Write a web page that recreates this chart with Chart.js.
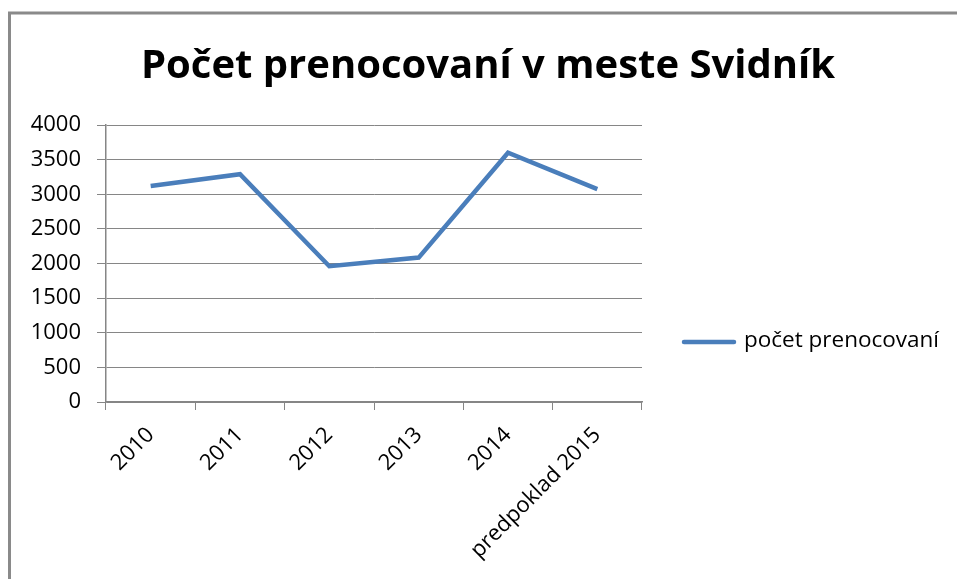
<!DOCTYPE html>
<html lang="sk">
<head>
    <meta charset="UTF-8">
    <title>Počet prenocovaní v meste Svidník</title>
    <script src="https://cdn.jsdelivr.net/npm/chart.js"></script>
    <style>
        html, body {
            margin: 0;
            padding: 0;
            background: #ffffff;
            overflow: hidden;
        }

        #chart {
            display: block;
        }
    </style>
</head>
<body>

    <canvas id="chart" width="957" height="579"></canvas>

    <script>
        // data
        const title = 'Počet prenocovaní v meste Svidník';
        const seriesName = 'počet prenocovaní';
        const years = ['2010', '2011', '2012', '2013', '2014', 'predpoklad 2015'];
        const nights = [3120, 3290, 1960, 2085, 3600, 3075];
        const yTicks = [0, 500, 1000, 1500, 2000, 2500, 3000, 3500, 4000];

        const lineColor = '#4a7ebb';
        const gridColor = '#868686';
        const font = "'Open Sans', sans-serif";

        // frame, title and legend like in the excel picture
        const decor = {
            id: 'decor',
            beforeDraw(chart) {
                const ctx = chart.ctx;
                ctx.save();
                ctx.strokeStyle = '#8a8a8a';
                ctx.lineWidth = 3;
                ctx.beginPath();
                ctx.moveTo(9.5, 700);
                ctx.lineTo(9.5, 13);
                ctx.lineTo(1000, 13);
                ctx.stroke();
                ctx.restore();
            },
            afterDraw(chart) {
                const ctx = chart.ctx;
                ctx.save();
                ctx.fillStyle = '#000';
                ctx.font = "bold 40px " + font;
                ctx.textAlign = 'center';
                ctx.textBaseline = 'alphabetic';
                ctx.fillText(title, 488, 78);

                ctx.strokeStyle = lineColor;
                ctx.lineWidth = 4.5;
                ctx.lineCap = 'round';
                ctx.beginPath();
                ctx.moveTo(684, 342);
                ctx.lineTo(734, 342);
                ctx.stroke();

                ctx.font = "22.5px " + font;
                ctx.textAlign = 'left';
                ctx.textBaseline = 'middle';
                ctx.fillText(chart.data.datasets[0].label, 744, 341);
                ctx.restore();
            }
        };

        const ctx = document.getElementById('chart').getContext('2d');

        new Chart(ctx, {
            type: 'line',
            data: {
                labels: years,
                datasets: [{
                    label: seriesName,
                    data: nights,
                    borderColor: lineColor,
                    backgroundColor: lineColor,
                    borderWidth: 4.5,
                    pointRadius: 0,
                    tension: 0,
                    fill: false
                }]
            },
            options: {
                responsive: false,
                animation: false,
                layout: {
                    padding: { left: 20, right: 315, top: 125, bottom: 0 }
                },
                plugins: {
                    legend: { display: false },
                    title: { display: false },
                    tooltip: { enabled: false }
                },
                scales: {
                    x: {
                        offset: true,
                        grid: {
                            offset: true,
                            drawOnChartArea: false,
                            color: gridColor,
                            tickLength: 8
                        },
                        border: { display: true, color: gridColor, width: 1.5 },
                        ticks: {
                            color: '#000',
                            font: { family: font, size: 22 },
                            minRotation: 45,
                            maxRotation: 45,
                            padding: 12
                        },
                        afterFit(scale) {
                            scale.height = 177;
                        }
                    },
                    y: {
                        min: 0,
                        max: 4000,
                        afterBuildTicks(scale) {
                            scale.ticks = yTicks.map(v => ({ value: v }));
                        },
                        grid: {
                            color: gridColor,
                            tickLength: 9
                        },
                        border: { display: true, color: gridColor, width: 1.5 },
                        ticks: {
                            color: '#000',
                            font: { family: font, size: 22 },
                            padding: 16,
                            callback: v => String(v)
                        },
                        afterFit(scale) {
                            scale.width = 86;
                        }
                    }
                }
            },
            plugins: [decor]
        });
    </script>

</body>
</html>
